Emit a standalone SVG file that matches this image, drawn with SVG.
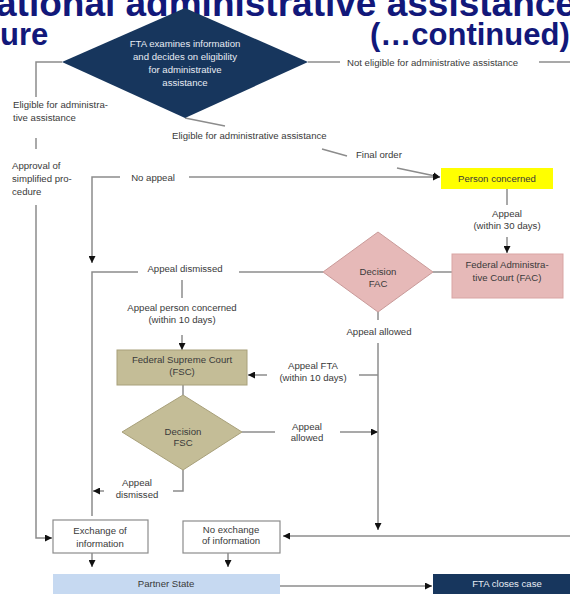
<svg xmlns="http://www.w3.org/2000/svg" width="570" height="594" viewBox="0 0 570 594">
<defs>
<marker id="ah" markerUnits="userSpaceOnUse" markerWidth="7" markerHeight="7" viewBox="0 0 8 8" refX="8" refY="4" orient="auto">
<path d="M0,0 L8,4 L0,8 z" fill="#111"/>
</marker>
<style>
.title{font-family:"Liberation Sans",Arial,sans-serif;font-weight:bold;font-size:31px;fill:#12187a}
.ln{stroke:#8c8c8c;stroke-width:1.5;fill:none}
.ar{stroke:#8c8c8c;stroke-width:1.5;fill:none;marker-end:url(#ah)}
.t{font-family:"Liberation Sans",Arial,sans-serif;font-size:9.6px;fill:#3a3a3a;text-anchor:middle}
.ts{font-family:"Liberation Sans",Arial,sans-serif;font-size:9.6px;fill:#3a3a3a}
.tw{font-family:"Liberation Sans",Arial,sans-serif;font-size:9.6px;fill:#e8ecf4;text-anchor:middle}
</style>
</defs>
<rect width="570" height="594" fill="#fff"/>
<g id="title">
<text class="title" x="-4" y="16" style="font-size:37px">ational administrative assistance</text>
<text class="title" x="0" y="45">ure</text>
<text class="title" x="370" y="45">(…continued)</text>
</g>
<g id="connectors">
<polyline class="ln" points="62,62 36,62 36,97"/>
<line class="ln" x1="36" y1="138" x2="36" y2="149"/>
<polyline class="ar" points="36,205 36,538 52,538"/>
<line class="ln" x1="185" y1="118" x2="225" y2="126"/>
<line class="ln" x1="322" y1="149" x2="347" y2="156"/>
<line class="ar" x1="397" y1="168" x2="440" y2="177"/>
<line class="ln" x1="308" y1="62" x2="340" y2="62"/>
<line class="ln" x1="539" y1="62" x2="570" y2="62"/>
<line class="ar" x1="189" y1="177" x2="440" y2="177"/>
<polyline class="ar" points="120,177 92,177 92,263"/>
<line class="ln" x1="507" y1="189" x2="507" y2="205"/>
<line class="ar" x1="507" y1="237" x2="507" y2="253"/>
<line class="ln" x1="433" y1="272" x2="452" y2="272"/>
<line class="ln" x1="323" y1="272" x2="239" y2="272"/>
<polyline class="ln" points="138,272 92,272 92,516"/>
<line class="ln" x1="182" y1="280" x2="182" y2="298"/>
<line class="ar" x1="182" y1="335" x2="182" y2="350"/>
<line class="ln" x1="183" y1="385" x2="183" y2="395"/>
<line class="ln" x1="242" y1="432" x2="275" y2="432"/>
<line class="ar" x1="340" y1="432" x2="378" y2="432"/>
<line class="ln" x1="378" y1="312" x2="378" y2="320"/>
<line class="ar" x1="378" y1="343" x2="378" y2="530"/>
<line class="ln" x1="378" y1="375" x2="359" y2="375"/>
<line class="ar" x1="267" y1="375" x2="248" y2="375"/>
<polyline class="ln" points="183,470 183,491 173,491"/>
<line class="ar" x1="104" y1="491" x2="93" y2="491"/>
<line class="ar" x1="92" y1="553" x2="92" y2="567"/>
<line class="ar" x1="228" y1="553" x2="228" y2="567"/>
<line class="ar" x1="570" y1="536" x2="283" y2="536"/>
<line class="ar" x1="280" y1="586" x2="432" y2="586"/>
</g>
<g id="labels">
<text class="ts" x="13" y="108">Eligible for administra-</text>
<text class="ts" x="13" y="121">tive assistance</text>
<text class="ts" x="12" y="169">Approval of</text>
<text class="ts" x="12" y="182">simplified pro-</text>
<text class="ts" x="12" y="195">cedure</text>
<text class="ts" x="172" y="139">Eligible for administrative assistance</text>
<text class="ts" x="356" y="158">Final order</text>
<text class="ts" x="347" y="66">Not eligible for administrative assistance</text>
<text class="t" x="153" y="181">No appeal</text>
<text class="t" x="507" y="217">Appeal</text>
<text class="t" x="507" y="229">(within 30 days)</text>
<text class="t" x="185" y="272">Appeal dismissed</text>
<text class="t" x="182" y="311">Appeal person concerned</text>
<text class="t" x="182" y="323">(within 10 days)</text>
<text class="t" x="379" y="335">Appeal allowed</text>
<text class="t" x="313" y="369">Appeal FTA</text>
<text class="t" x="313" y="381">(within 10 days)</text>
<text class="t" x="307" y="430">Appeal</text>
<text class="t" x="307" y="441">allowed</text>
<text class="t" x="137" y="486">Appeal</text>
<text class="t" x="137" y="498">dismissed</text>
</g>
<g id="fta-examines">
<polygon points="185,8 308,62 185,118 62,62" fill="#17365d"/>
<text class="tw" x="185" y="47">FTA examines information</text>
<text class="tw" x="185" y="60">and decides on eligibility</text>
<text class="tw" x="185" y="73">for administrative</text>
<text class="tw" x="185" y="86">assistance</text>
</g>
<g id="person-concerned">
<rect x="441" y="168" width="112" height="21" fill="#ffff00"/>
<text class="t" x="497" y="182">Person concerned</text>
</g>
<g id="fac">
<rect x="452" y="254" width="111" height="44" fill="#e6b9b8" stroke="#d9a5a4" stroke-width="1"/>
<text class="t" x="507" y="268">Federal Administra-</text>
<text class="t" x="507" y="281">tive Court (FAC)</text>
</g>
<g id="decision-fac">
<polygon points="323,272 378,232 433,272 378,312" fill="#e6b9b8" stroke="#c99a99" stroke-width="1"/>
<text class="t" x="378" y="275">Decision</text>
<text class="t" x="378" y="287">FAC</text>
</g>
<g id="fsc">
<rect x="117" y="350" width="130" height="35" fill="#c4bd97" stroke="#a8a07a" stroke-width="1"/>
<text class="t" x="182" y="363">Federal Supreme Court</text>
<text class="t" x="182" y="375">(FSC)</text>
</g>
<g id="decision-fsc">
<polygon points="122,432 183,395 242,432 183,470" fill="#c4bd97" stroke="#a8a07a" stroke-width="1"/>
<text class="t" x="183" y="435">Decision</text>
<text class="t" x="183" y="446">FSC</text>
</g>
<g id="exchange">
<rect x="53" y="520" width="95" height="33" fill="#fff" stroke="#8c8c8c" stroke-width="1.2"/>
<text class="t" x="100" y="534">Exchange of</text>
<text class="t" x="100" y="547">information</text>
</g>
<g id="no-exchange">
<rect x="183" y="521" width="97" height="32" fill="#fff" stroke="#8c8c8c" stroke-width="1.2"/>
<text class="t" x="231" y="533">No exchange</text>
<text class="t" x="231" y="544">of information</text>
</g>
<g id="partner-state">
<rect x="53" y="574" width="227" height="22" fill="#c6d9f1"/>
<text class="t" x="166" y="587">Partner State</text>
</g>
<g id="fta-closes">
<rect x="433" y="574" width="140" height="22" fill="#17365d"/>
<text class="tw" x="507" y="587">FTA closes case</text>
</g>
</svg>
